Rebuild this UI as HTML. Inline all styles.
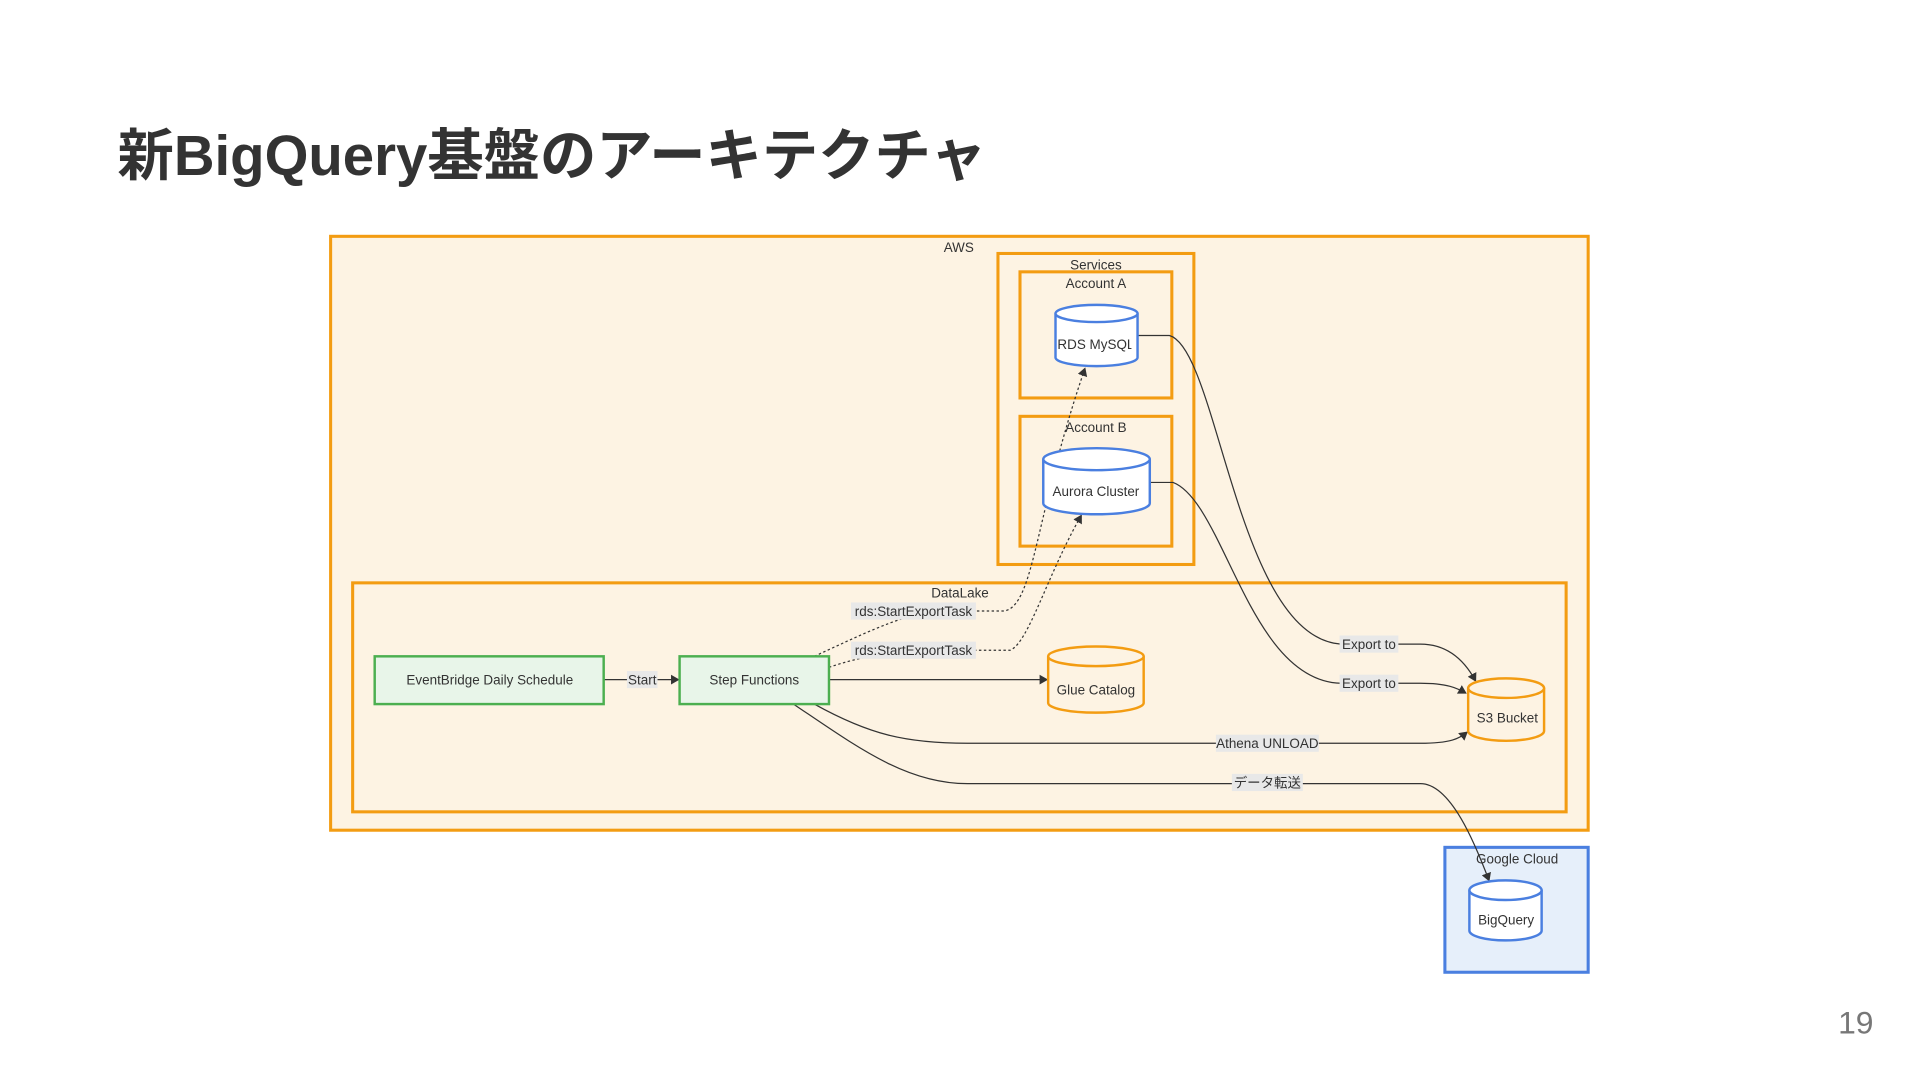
<!DOCTYPE html>
<html><head><meta charset="utf-8">
<style>
html,body{margin:0;padding:0;background:#fff;width:1920px;height:1080px;overflow:hidden}
svg{display:block}
text{font-family:"Liberation Sans","Noto Sans CJK JP",sans-serif}
</style></head><body>
<svg width="1920" height="1080" viewBox="0 0 1568 882" xmlns="http://www.w3.org/2000/svg">
<defs>
<marker id="ar" markerWidth="8" markerHeight="8" refX="6" refY="4" orient="auto" markerUnits="userSpaceOnUse">
<path d="M0,0 L7,4 L0,8 z" fill="#333"/></marker>
<clipPath id="c1"><rect x="862" y="270" width="62" height="30"/></clipPath>
<clipPath id="c2"><rect x="1199" y="575" width="58" height="25"/></clipPath>
<clipPath id="c3"><rect x="1200" y="740" width="55" height="25"/></clipPath>
<clipPath id="c4"><rect x="306" y="540" width="167" height="30"/></clipPath>
</defs>
<text x="96" y="143" font-size="46" font-weight="bold" fill="#333">新BigQuery基盤のアーキテクチャ</text>
<text x="1530" y="844" font-size="26" fill="#777" text-anchor="end">19</text>

<g stroke="#f39c12" stroke-width="2.5" fill="#fdf3e3">
<rect x="270" y="193" width="1027" height="485"/>
<rect x="815" y="207" width="160" height="254"/>
<rect x="833" y="222" width="124" height="103"/>
<rect x="833" y="340" width="124" height="106"/>
<rect x="288" y="476" width="991" height="187"/>
</g>
<rect x="1180" y="692" width="117" height="102" fill="#e6effa" stroke="#4a7fe0" stroke-width="2.5"/>

<g font-size="11" fill="#333" text-anchor="middle">
<text x="783" y="206">AWS</text>
<text x="895" y="220">Services</text>
<text x="895" y="235">Account A</text>
<text x="895" y="353">Account B</text>
<text x="784" y="488">DataLake</text>
<text x="1239" y="705">Google Cloud</text>
</g>

<g fill="none" stroke="#333" stroke-width="1">
<path d="M929,274 H955 C995,285 1010,520 1095,526 H1160 C1185,526 1198,543 1205,556" marker-end="url(#ar)"/>
<path d="M939,394 H958 C1000,410 1020,556 1095,558 H1160 C1182,558 1190,562 1197,566" marker-end="url(#ar)"/>
<path d="M677,555 H855" marker-end="url(#ar)"/>
<path d="M493,555 H554" marker-end="url(#ar)"/>
<path d="M665,575 C710,600 740,607 790,607 H1160 C1185,607 1192,603 1198,598" marker-end="url(#ar)"/>
<path d="M648,575 C700,610 740,640 790,640 H1160 C1185,640 1205,690 1216,719" marker-end="url(#ar)"/>
<path d="M665,536 C700,520 730,505 760,499 H820 C845,495 845,420 886,301" stroke-dasharray="2,2" marker-end="url(#ar)"/>
<path d="M677,545 C700,537 730,531 760,531 H825 C840,525 855,470 883,421" stroke-dasharray="2,2" marker-end="url(#ar)"/>
</g>

<g stroke-width="2">
<path d="M862,256 V292 A33.5,7 0 0 0 929,292 V256" fill="#fff" stroke="#4a7fe0"/>
<ellipse cx="895.5" cy="256" rx="33.5" ry="7" fill="#fff" stroke="#4a7fe0"/>
<path d="M852,375 V411 A43.5,9 0 0 0 939,411 V375" fill="#fff" stroke="#4a7fe0"/>
<ellipse cx="895.5" cy="375" rx="43.5" ry="9" fill="#fff" stroke="#4a7fe0"/>
<path d="M856,536 V574 A39,8 0 0 0 934,574 V536" fill="#fdf3e3" stroke="#f39c12"/>
<ellipse cx="895" cy="536" rx="39" ry="8" fill="#fdf3e3" stroke="#f39c12"/>
<path d="M1199,562 V597 A31,8 0 0 0 1261,597 V562" fill="#fdf3e3" stroke="#f39c12"/>
<ellipse cx="1230" cy="562" rx="31" ry="8" fill="#fdf3e3" stroke="#f39c12"/>
<path d="M1200,727 V760 A29.5,8 0 0 0 1259,760 V727" fill="#fff" stroke="#4a7fe0"/>
<ellipse cx="1229.5" cy="727" rx="29.5" ry="8" fill="#fff" stroke="#4a7fe0"/>
</g>

<g stroke-width="2">
<rect x="306" y="536" width="187" height="39" fill="#e8f5e9" stroke="#4caf50"/>
<rect x="555" y="536" width="122" height="39" fill="#e8f5e9" stroke="#4caf50"/>
</g>

<g fill="#e8e8e8">
<rect x="512" y="548" width="25" height="14"/>
<rect x="695" y="492" width="102" height="14"/>
<rect x="695" y="524" width="102" height="14"/>
<rect x="1094" y="519" width="48" height="14"/>
<rect x="1094" y="551" width="48" height="14"/>
<rect x="993" y="600" width="84" height="14"/>
<rect x="1006" y="632" width="58" height="14"/>
</g>
<g font-size="11" fill="#333" text-anchor="middle">
<text x="524.5" y="559">Start</text>
<text x="746" y="503">rds:StartExportTask</text>
<text x="746" y="535">rds:StartExportTask</text>
<text x="1118" y="530">Export to</text>
<text x="1118" y="562">Export to</text>
<text x="1035" y="611">Athena UNLOAD</text>
<text x="1035" y="643">データ転送</text>
<text x="400" y="559" clip-path="url(#c4)">EventBridge Daily Schedule</text>
<text x="616" y="559">Step Functions</text>
<text x="895" y="567">Glue Catalog</text>
<text x="895" y="285" clip-path="url(#c1)">RDS MySQL</text>
<text x="895" y="405">Aurora Cluster</text>
<text x="1231" y="590" clip-path="url(#c2)">S3 Bucket</text>
<text x="1230" y="755" clip-path="url(#c3)">BigQuery</text>
</g>
</svg>
</body></html>
